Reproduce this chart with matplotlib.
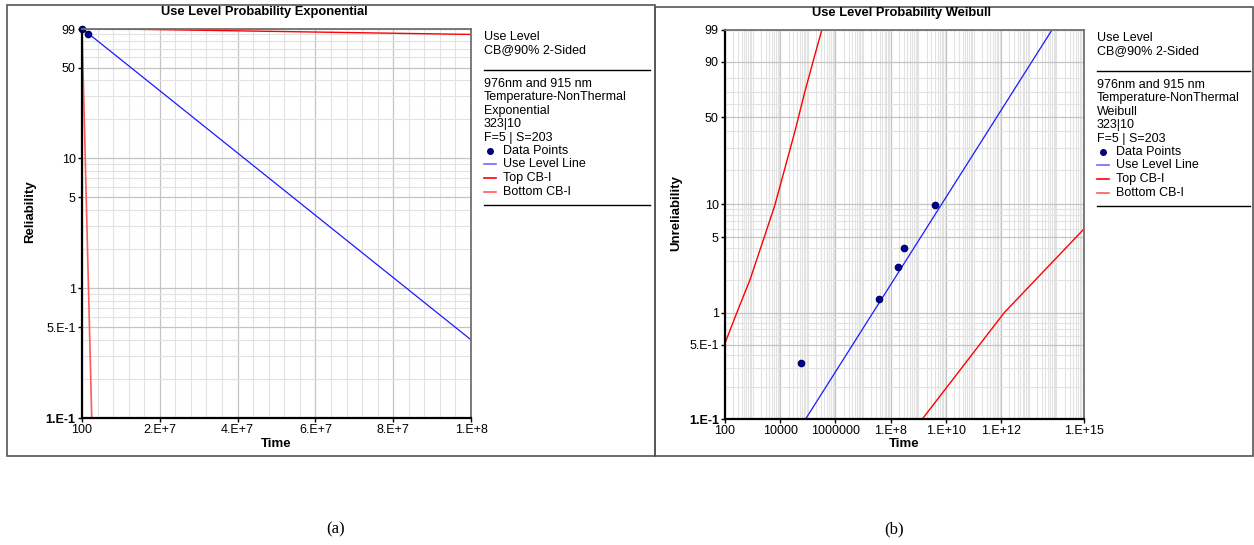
import numpy as np
import matplotlib
matplotlib.use('Agg')
import matplotlib.pyplot as plt
from matplotlib.lines import Line2D
from matplotlib.patches import Rectangle
from matplotlib.ticker import FixedLocator, NullFormatter

plt.rcParams['font.family'] = ['Liberation Sans', 'DejaVu Sans']

# --- exponential panel (a) ---
exp_pts_time = [100, 1.6e6]
exp_pts_rel = [99.5, 91.0]
exp_use_time = [100, 1e8]
exp_use_rel = [99.99, 0.4]
exp_top_time = [100, 1e8]
exp_top_rel = [99.999, 89.9]
exp_bot_time = [100, 2.5e6]
exp_bot_rel = [99.97, 0.1]
exp_xticks = [100, 2e7, 4e7, 6e7, 8e7, 1e8]
exp_xlabels = ['100', '2.E+7', '4.E+7', '6.E+7', '8.E+7', '1.E+8']
exp_yticks = [0.1, 0.5, 1, 5, 10, 50, 99]
exp_ylabels = ['1.E-1', '5.E-1', '1', '5', '10', '50', '99']

# --- weibull panel (b) ---
wb_pts_time = [5.5e4, 3.8e7, 1.9e8, 3.1e8, 4.1e9]
wb_pts_unrel = [0.334, 1.34, 2.66, 3.99, 9.75]
wb_use_time = [8.3e4, 6.9e13]
wb_use_unrel = [0.1, 99]
wb_top_time = [100, 265, 805, 2460, 6300, 14550, 33500, 77300, 1.78e5, 3.2e5]
wb_top_unrel = [0.516, 0.99, 2.03, 4.77, 9.7, 20.3, 39.6, 69.8, 93.0, 99]
wb_bot_time = [1.4e9, 1.3e12, 1e15]
wb_bot_unrel = [0.1, 1.0, 5.98]
wb_xticks = [1e2, 1e4, 1e6, 1e8, 1e10, 1e12, 1e15]
wb_xlabels = ['100', '10000', '1000000', '1.E+8', '1.E+10', '1.E+12', '1.E+15']
wb_yticks = [0.1, 0.5, 1, 5, 10, 50, 90, 99]
wb_ylabels = ['1.E-1', '5.E-1', '1', '5', '10', '50', '90', '99']

legend_head = ['Use Level', 'CB@90% 2-Sided']
legend_info = ['976nm and 915 nm', 'Temperature-NonThermal', None, '323|10', 'F=5 | S=203']

BLUE = '#1a1aff'
RED = '#ff0000'
RED2 = '#ff5a5a'
DOT = '#0000a0'
W, H = 1254, 545
FS = 9


def px(x, y):
    return x / W, 1 - y / H


def wb_fwd(f):
    f = np.clip(np.asarray(f, float) / 100.0, 1e-9, 1 - 1e-12)
    return np.log10(-np.log(1 - f))


def wb_inv(w):
    return 100.0 * (1 - np.exp(-10 ** np.asarray(w, float)))


def style_axes(ax):
    for s in ['left', 'bottom']:
        ax.spines[s].set_color('black')
        ax.spines[s].set_linewidth(1.6)
    for s in ['top', 'right']:
        ax.spines[s].set_color('#707070')
        ax.spines[s].set_linewidth(1.3)
    ax.tick_params(which='major', length=3, width=1, labelsize=FS, pad=1.5)
    ax.tick_params(which='minor', length=0)
    ax.grid(which='major', color='#c4c4c4', lw=0.9)
    ax.grid(which='minor', color='#e2e2e2', lw=0.8)
    ax.set_axisbelow(True)
    for lab in ax.get_yticklabels():
        if lab.get_text() == '1.E-1':
            lab.set_fontweight('bold')


fig = plt.figure(figsize=(W / 100, H / 100), dpi=100)

# panel frames
fig.add_artist(Rectangle(px(7, 456), 648 / W, 451 / H, transform=fig.transFigure,
                         fill=False, ec='#555555', lw=1.2))
fig.add_artist(Rectangle(px(655, 456), 598 / W, 449 / H, transform=fig.transFigure,
                         fill=False, ec='#555555', lw=1.2))

# ---------- (a) exponential ----------
ax1 = fig.add_axes([82 / W, 1 - 418 / H, 389 / W, 389 / H])
ax1.set_yscale('log')
ax1.set_xlim(100, 1e8)
ax1.set_ylim(0.1, 99)
ax1.plot(exp_top_time, exp_top_rel, color=RED, lw=1)
ax1.plot(exp_bot_time, exp_bot_rel, color=RED2, lw=1.2)
ax1.plot(exp_use_time, exp_use_rel, color=BLUE, lw=0.9)
ax1.plot(exp_pts_time, exp_pts_rel, 'o', ms=4.5, mfc=DOT, mec='#000060', clip_on=False)
ax1.set_xticks(exp_xticks, exp_xlabels)
ax1.xaxis.set_minor_locator(FixedLocator(np.arange(4e6, 1e8, 4e6)))
ax1.set_yticks(exp_yticks, exp_ylabels)
minors = [m * d for d in [0.1, 1, 10] for m in [2, 3, 4, 6, 7, 8, 9]]
ax1.yaxis.set_minor_locator(FixedLocator(minors))
ax1.yaxis.set_minor_formatter(NullFormatter())
style_axes(ax1)

# ---------- (b) weibull ----------
ax2 = fig.add_axes([725 / W, 1 - 419 / H, 359 / W, 389 / H])
ax2.set_xscale('log')
ax2.set_yscale('function', functions=(wb_fwd, wb_inv))
ax2.set_xlim(100, 1e15)
ax2.set_ylim(0.1, 99)
ax2.plot(wb_top_time, wb_top_unrel, color=RED, lw=1)
ax2.plot(wb_bot_time, wb_bot_unrel, color=RED, lw=1)
ax2.plot(wb_use_time, wb_use_unrel, color=BLUE, lw=0.9)
ax2.plot(wb_pts_time, wb_pts_unrel, 'o', ms=4.5, mfc=DOT, mec='#000060')
ax2.set_xticks(wb_xticks, wb_xlabels)
xmin = [m * 10.0 ** e for e in range(2, 15) for m in range(1, 10) if m * 10.0 ** e <= 1e15]
ax2.xaxis.set_minor_locator(FixedLocator(xmin))
ax2.xaxis.set_minor_formatter(NullFormatter())
ax2.set_yticks(wb_yticks, wb_ylabels)
ymin = [0.2, 0.3, 0.4, 0.6, 0.7, 0.8, 0.9, 2, 3, 4, 6, 7, 8, 9, 20, 30, 40, 60, 70, 80]
ax2.yaxis.set_minor_locator(FixedLocator(ymin))
ax2.yaxis.set_minor_formatter(NullFormatter())
style_axes(ax2)

# titles and axis labels
fig.text(*px(264, 12), 'Use Level Probability Exponential', ha='center', va='center',
         fontsize=9.3, fontweight='bold')
fig.text(*px(902, 13), 'Use Level Probability Weibull', ha='center', va='center',
         fontsize=9.3, fontweight='bold')
fig.text(*px(276, 444), 'Time', ha='center', va='center', fontsize=9.5, fontweight='bold')
fig.text(*px(904, 444), 'Time', ha='center', va='center', fontsize=9.5, fontweight='bold')
fig.text(*px(30, 212), 'Reliability', ha='center', va='center', rotation=90,
         fontsize=9.5, fontweight='bold')
fig.text(*px(676, 213), 'Unreliability', ha='center', va='center', rotation=90,
         fontsize=9.5, fontweight='bold')


def draw_legend(x0, x1, y0, dist):
    rows = list(legend_head) + [None] + [dist if t is None else t for t in legend_info]
    ys = [y0, y0 + 13.5, None, y0 + 47, y0 + 60.5, y0 + 74, y0 + 87.5, y0 + 101]
    for t, y in zip(rows, ys):
        if t is None:
            continue
        fig.text(*px(x0, y), t, ha='left', va='center', fontsize=FS)
    for ly in [y0 + 33.5, y0 + 168.5]:
        fig.add_artist(Line2D([x0 / W, x1 / W], [1 - ly / H] * 2, transform=fig.transFigure,
                              color='black', lw=1))
    items = [('Data Points', None), ('Use Level Line', '#6b6bff'),
             ('Top CB-I', RED), ('Bottom CB-I', RED2)]
    for i, (name, col) in enumerate(items):
        y = y0 + 114 + i * 13.7
        if col is None:
            fig.add_artist(Line2D([(x0 + 5.5) / W], [1 - y / H], transform=fig.transFigure,
                                  marker='o', ms=4, mfc=DOT, mec='#000060', ls='none'))
        else:
            fig.add_artist(Line2D([x0 / W, (x0 + 12) / W], [1 - y / H] * 2,
                                  transform=fig.transFigure, color=col, lw=1.2))
        fig.text(*px(x0 + 19, y), name, ha='left', va='center', fontsize=FS)


draw_legend(484, 650, 36.7, 'Exponential')
draw_legend(1097, 1250, 37.7, 'Weibull')

fig.text(*px(336, 529), '(a)', ha='center', va='center', fontsize=12,
         family=['Liberation Serif', 'DejaVu Serif'])
fig.text(*px(894, 529), '(b)', ha='center', va='center', fontsize=12,
         family=['Liberation Serif', 'DejaVu Serif'])

fig.savefig('out.png', dpi=100)
